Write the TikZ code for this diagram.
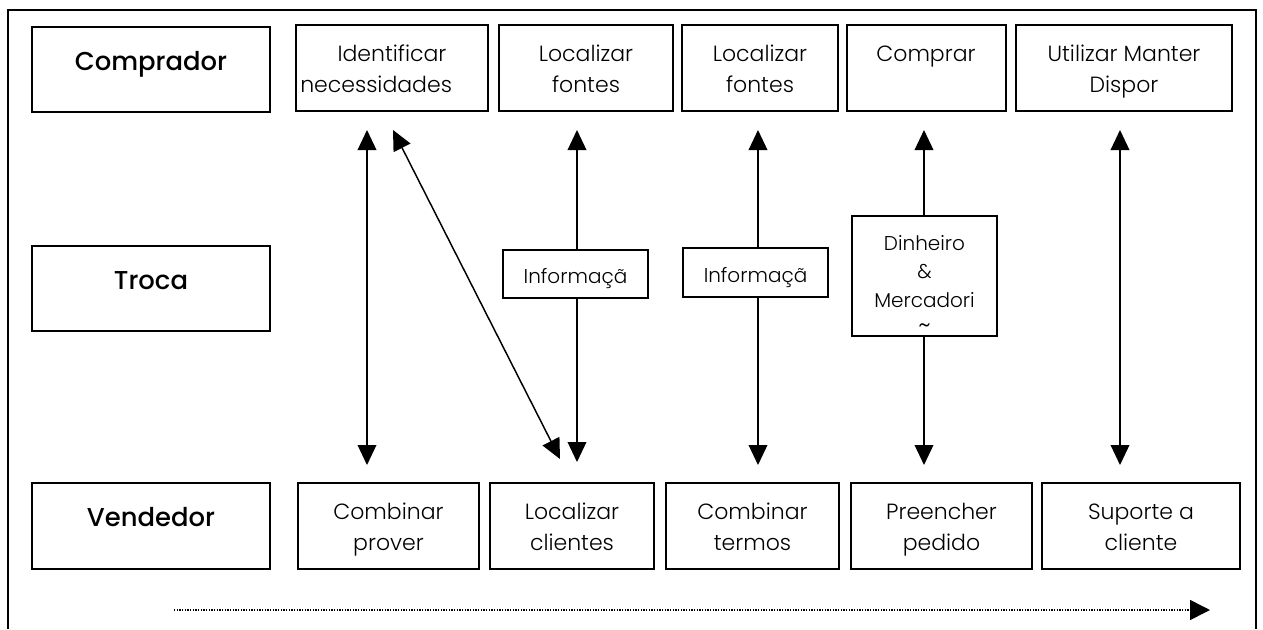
\documentclass[tikz,border=0pt]{standalone}
\usepackage{fontspec}
\setmainfont{Poppins}
\newfontfamily\lightf{Poppins Light}
\newfontfamily\medf{Poppins Medium}
\usetikzlibrary{arrows.meta}
\newcommand\bx[5]{\node[boxst, minimum width={(#4-#2)*0.75pt}, minimum height={(#5-#3)*0.75pt}] (#1) at ({(#2+#4)/2},{(#3+#5)/2}) {};}
\begin{document}
\begin{tikzpicture}[x=0.75pt,y=-0.75pt,
  boxst/.style={draw, line width=1.1pt, inner sep=0pt, fill=white},
  lbl/.style={font=\lightf\fontsize{16.5}{20}\selectfont, inner sep=0pt, anchor=base},
  mid/.style={font=\lightf\fontsize{15}{18}\selectfont, inner sep=0pt, anchor=base},
  big/.style={font=\medf\fontsize{19.4}{23}\selectfont, inner sep=0pt, anchor=base},
  link/.style={line width=1.1pt, {Triangle[width=14pt,length=15pt]}-{Triangle[width=14pt,length=15pt]}},
  flow/.style={line width=1.1pt, dash pattern=on 1pt off 1pt, -{Triangle[width=15pt,length=15pt]}},
]
\useasboundingbox (0,0) rectangle (1263,629);
\draw[line width=1.1pt] (8,629) -- (8,10) -- (1256,10) -- (1256,629);

% row 1: Comprador
\bx{comp}{32}{27}{270}{112}
\node[big] (compT) at (151,70) {Comprador};
\bx{c1}{296}{25}{488}{111}
\node[lbl] (c1a) at (392,61) {Identificar};
\begin{scope}
  \clip (297,26) rectangle (487,110);
  \node[lbl, anchor=base west] (c1b) at (300,92) {necessidades};
\end{scope}
\bx{c2}{499}{25}{673}{111}
\node[lbl] (c2a) at (586,61) {Localizar};
\node[lbl] (c2b) at (586,92) {fontes};
\bx{c3}{682}{25}{838}{111}
\node[lbl] (c3a) at (760,61) {Localizar};
\node[lbl] (c3b) at (760,92) {fontes};
\bx{c4}{847}{25}{1006}{111}
\node[lbl] (c4a) at (926,61) {Comprar};
\bx{c5}{1016}{25}{1232}{111}
\node[lbl] (c5a) at (1124,61) {Utilizar Manter};
\node[lbl] (c5b) at (1124,92) {Dispor};

% arrows
\coordinate (a1t) at (367,130); \coordinate (a1b) at (367,465);
\coordinate (dgt) at (393,130); \coordinate (dgb) at (560,459);
\coordinate (a2t) at (577,130); \coordinate (a2b) at (577,462);
\coordinate (a3t) at (758,130); \coordinate (a3b) at (758,465);
\coordinate (a4t) at (924,130); \coordinate (a4b) at (924,465);
\coordinate (a5t) at (1120,130); \coordinate (a5b) at (1120,465);
\draw[link] (a1t) -- (a1b);
\draw[link] (dgt) -- (dgb);
\draw[link] (a2t) -- (a2b);
\draw[link] (a3t) -- (a3b);
\draw[link] (a4t) -- (a4b);
\draw[link] (a5t) -- (a5b);

% row 2: Troca
\bx{troca}{32}{246}{270}{331}
\node[big] (trocaT) at (151,289) {Troca};
\bx{x1}{503}{250}{648}{298}
\node[mid] (x1a) at (575.5,283) {Informaçã};
\bx{x2}{683}{248}{828}{297}
\node[mid] (x2a) at (755.5,282) {Informaçã};
\bx{x3}{852}{216}{997}{336}
\node[mid] (x3a) at (924.5,250) {Dinheiro};
\node[mid] (x3b) at (924.5,278) {\&};
\node[mid] (x3c) at (924.5,307) {Mercadori};
\node[mid, font=\lightf\fontsize{19}{20}\selectfont] (x3d) at (924.5,333) {\char"007E};

% row 3: Vendedor
\bx{vend}{32}{483}{270}{569}
\node[big] (vendT) at (151,526) {Vendedor};
\bx{v1}{298}{483}{479}{569}
\node[lbl] (v1a) at (388.5,519) {Combinar};
\node[lbl] (v1b) at (388.5,550) {prover};
\bx{v2}{490}{483}{654}{569}
\node[lbl] (v2a) at (572,519) {Localizar};
\node[lbl] (v2b) at (572,550) {clientes};
\bx{v3}{666}{483}{839}{569}
\node[lbl] (v3a) at (752.5,519) {Combinar};
\node[lbl] (v3b) at (752.5,550) {termos};
\bx{v4}{851}{483}{1032}{569}
\node[lbl] (v4a) at (941.5,519) {Preencher};
\node[lbl] (v4b) at (941.5,550) {pedido};
\bx{v5}{1042}{483}{1240}{569}
\node[lbl] (v5a) at (1141,519) {Suporte a};
\node[lbl] (v5b) at (1141,550) {cliente};

% time arrow
\coordinate (ts) at (174,610); \coordinate (te) at (1210,610);
\draw[flow] (ts) -- (te);
\end{tikzpicture}
\end{document}
